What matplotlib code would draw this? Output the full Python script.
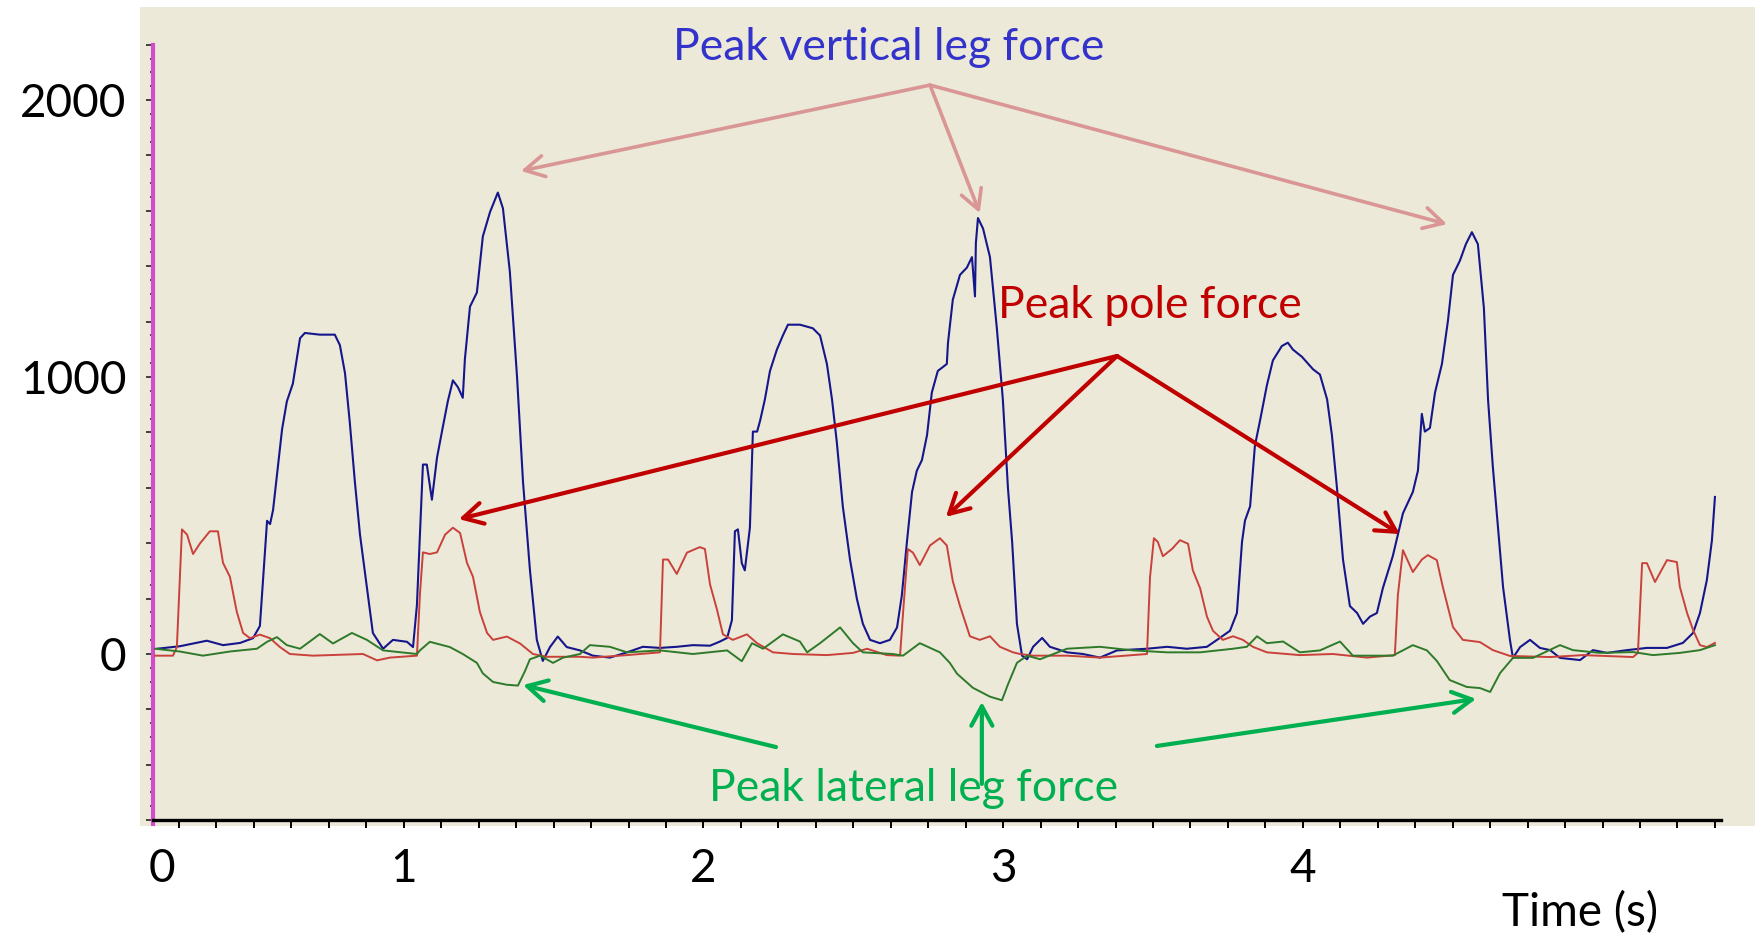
import numpy as np
import matplotlib.pyplot as plt
from matplotlib.patches import FancyArrowPatch
from matplotlib.ticker import FixedLocator

plt.rcParams['font.family'] = ['Lato', 'DejaVu Sans']

# traces: time (s), force
blue_t = [0.177, 0.253, 0.343, 0.397, 0.454, 0.497, 0.520, 0.544, 0.554, 0.564, 0.594, 0.610, 0.630,
          0.654, 0.670, 0.720, 0.770, 0.787, 0.804, 0.820, 0.837, 0.854, 0.877, 0.897, 0.931, 0.964,
          1.011, 1.031, 1.044, 1.064, 1.077, 1.094, 1.111, 1.131, 1.147, 1.164, 1.181, 1.197, 1.204,
          1.221, 1.244, 1.264, 1.288, 1.314, 1.331, 1.354, 1.378, 1.398, 1.421, 1.444, 1.464, 1.488,
          1.514, 1.544, 1.588, 1.631, 1.688, 1.745, 1.798, 1.855, 1.911, 1.965, 2.022, 2.055, 2.079,
          2.095, 2.105, 2.115, 2.128, 2.138, 2.155, 2.165, 2.179, 2.189, 2.205, 2.222, 2.245, 2.265,
          2.282, 2.322, 2.365, 2.389, 2.412, 2.429, 2.445, 2.465, 2.489, 2.512, 2.532, 2.556, 2.589,
          2.622, 2.646, 2.662, 2.679, 2.696, 2.712, 2.729, 2.746, 2.762, 2.782, 2.812, 2.816, 2.832,
          2.856, 2.879, 2.896, 2.906, 2.909, 2.916, 2.933, 2.956, 2.979, 2.999, 3.016, 3.030, 3.046,
          3.063, 3.080, 3.100, 3.130, 3.156, 3.213, 3.266, 3.323, 3.380, 3.480, 3.547, 3.613, 3.680,
          3.723, 3.757, 3.780, 3.797, 3.807, 3.824, 3.840, 3.857, 3.880, 3.900, 3.930, 3.950, 3.967,
          3.997, 4.034, 4.057, 4.081, 4.097, 4.114, 4.134, 4.157, 4.181, 4.201, 4.224, 4.247, 4.267,
          4.300, 4.334, 4.367, 4.384, 4.397, 4.407, 4.424, 4.441, 4.464, 4.484, 4.501, 4.524, 4.544,
          4.564, 4.584, 4.604, 4.618, 4.634, 4.651, 4.668, 4.691, 4.701, 4.725, 4.758, 4.791, 4.825,
          4.858, 4.925, 4.968, 5.015, 5.082, 5.148, 5.215, 5.268, 5.302, 5.325, 5.348, 5.365, 5.375]
blue_v = [19, 28, 48, 32, 40, 57, 101, 481, 469, 520, 811, 912, 976,
          1140, 1159, 1153, 1153, 1115, 1014, 836, 621, 431, 241, 76, 19, 51,
          44, 25, 177, 684, 684, 557, 709, 823, 912, 988, 963, 925, 1064,
          1254, 1305, 1508, 1596, 1666, 1609, 1381, 1001, 621, 304, 51, -25, 25,
          63, 25, 13, -6, -13, 6, 26, 22, 26, 32, 30, 45, 58,
          122, 443, 450, 328, 302, 456, 803, 803, 842, 919, 1022, 1099, 1150,
          1189, 1189, 1176, 1150, 1047, 919, 765, 533, 341, 199, 109, 51, 39,
          51, 96, 212, 405, 585, 662, 700, 790, 944, 1022, 1047, 1124, 1279,
          1369, 1395, 1433, 1291, 1484, 1574, 1536, 1433, 1176, 919, 600, 405, 109,
          -6, -19, 26, 58, 26, 6, 0, -13, 13, 19, 26, 19, 26,
          58, 84, 148, 405, 482, 533, 752, 842, 970, 1060, 1112, 1124, 1099,
          1073, 1028, 1009, 919, 790, 598, 341, 173, 148, 109, 135, 148, 238,
          353, 508, 585, 662, 867, 803, 816, 944, 1047, 1202, 1369, 1420, 1480,
          1523, 1480, 1250, 917, 675, 458, 242, 51, -14, 25, 51, 22, 14,
          -14, -22, 14, 4, 14, 22, 22, 40, 76, 148, 267, 411, 567]

red_t = [0.170, 0.230, 0.243, 0.260, 0.277, 0.297, 0.320, 0.353, 0.380, 0.397, 0.420, 0.443, 0.464,
         0.487, 0.520, 0.554, 0.587, 0.620, 0.697, 0.864, 0.911, 0.954, 1.044, 1.054, 1.064, 1.087,
         1.111, 1.138, 1.164, 1.188, 1.211, 1.231, 1.254, 1.278, 1.298, 1.344, 1.388, 1.431, 1.478,
         1.588, 1.631, 1.745, 1.855, 1.865, 1.882, 1.911, 1.945, 1.988, 2.005, 2.022, 2.045, 2.065,
         2.098, 2.145, 2.179, 2.232, 2.299, 2.412, 2.499, 2.546, 2.612, 2.656, 2.666, 2.682, 2.699,
         2.722, 2.756, 2.789, 2.812, 2.832, 2.856, 2.889, 2.922, 2.956, 2.989, 3.033, 3.056, 3.100,
         3.213, 3.323, 3.480, 3.490, 3.503, 3.516, 3.533, 3.563, 3.590, 3.617, 3.633, 3.657, 3.680,
         3.700, 3.733, 3.767, 3.800, 3.833, 3.880, 3.990, 4.100, 4.214, 4.307, 4.317, 4.334, 4.367,
         4.397, 4.417, 4.447, 4.467, 4.501, 4.534, 4.591, 4.634, 4.691, 4.825, 4.935, 5.102, 5.118,
         5.132, 5.148, 5.175, 5.215, 5.248, 5.258, 5.282, 5.302, 5.325, 5.348, 5.375]
red_v = [-6, -6, 25, 450, 431, 361, 399, 443, 443, 329, 279, 152, 76,
         57, 70, 57, 25, 0, -6, 0, -23, -13, -6, 215, 367, 361,
         367, 431, 456, 437, 329, 279, 152, 76, 51, 63, 38, 0, -10,
         -10, -13, -4, 6, 341, 341, 289, 366, 386, 379, 251, 161, 71,
         51, 71, 39, 6, 0, -4, 4, 19, -4, -6, 148, 379, 366,
         321, 392, 418, 392, 263, 173, 64, 51, 64, 26, 6, 0, -6,
         -6, -13, 0, 276, 418, 405, 353, 379, 411, 398, 302, 238, 135,
         84, 51, 64, 51, 26, 6, -4, 0, -13, -4, 212, 375, 296,
         341, 357, 339, 242, 97, 51, 43, 14, -7, -11, -4, -11, 4,
         328, 328, 260, 339, 332, 242, 148, 87, 32, 25, 40]

green_t = [0.170, 0.253, 0.330, 0.420, 0.510, 0.544, 0.577, 0.610, 0.654, 0.720, 0.764, 0.827, 0.877,
           0.931, 1.044, 1.054, 1.087, 1.154, 1.197, 1.244, 1.264, 1.298, 1.344, 1.381, 1.404, 1.421,
           1.455, 1.498, 1.532, 1.588, 1.621, 1.688, 1.745, 1.855, 1.965, 2.079, 2.128, 2.162, 2.199,
           2.265, 2.322, 2.346, 2.389, 2.456, 2.499, 2.532, 2.632, 2.666, 2.722, 2.789, 2.822, 2.846,
           2.899, 2.956, 2.996, 3.016, 3.046, 3.080, 3.123, 3.213, 3.323, 3.433, 3.547, 3.657, 3.767,
           3.813, 3.847, 3.880, 3.934, 3.990, 4.057, 4.124, 4.167, 4.234, 4.300, 4.367, 4.414, 4.447,
           4.490, 4.547, 4.591, 4.625, 4.658, 4.701, 4.768, 4.858, 4.901, 4.991, 5.102, 5.168, 5.258,
           5.325, 5.375]
green_v = [19, 9, -6, 9, 19, 44, 61, 32, 19, 72, 38, 76, 51,
           13, 0, 13, 44, 25, 0, -32, -70, -101, -111, -114, -63, -19,
           -6, -32, -13, 0, 32, 26, 6, 13, 0, 13, -26, 39, 19,
           71, 45, 6, 39, 96, 39, 6, 0, -6, 39, 6, -32, -71,
           -122, -154, -167, -110, -32, -6, -19, 19, 26, 13, 6, 6, 19,
           26, 64, 39, 45, 6, 13, 45, -6, -6, -6, 32, 13, -25,
           -94, -119, -123, -137, -69, -14, -14, 32, 14, 4, 7, -4, 4,
           14, 32]

ytick_values = [0, 1000, 2000]
xtick_pos = [0.193, 1, 2, 3, 4]
xtick_labels = ['0', '1', '2', '3', '4']

fig = plt.figure(figsize=(17.56, 9.39), dpi=100)
ax = fig.add_axes([140 / 1756, 113 / 939, 1616 / 1756, 819 / 939])
ax.set_facecolor('#ECE9D8')
ax.set_xlim(0.120, 5.512)
ax.set_ylim(-621, 2336)

ax.plot(blue_t, blue_v, color='#15158c', lw=1.5, zorder=3)
ax.plot(red_t, red_v, color='#c9413b', lw=1.4, zorder=4)
ax.plot(green_t, green_v, color='#2e7a2a', lw=1.4, zorder=4)

# axes look like the logger software
for s in ['top', 'right']:
    ax.spines[s].set_visible(False)
ax.spines['left'].set_position(('data', 0.163))
ax.spines['left'].set_bounds(-615, 2200)
ax.spines['left'].set_color('#d24ccc')
ax.spines['left'].set_linewidth(3)
ax.spines['bottom'].set_position(('data', -600))
ax.spines['bottom'].set_bounds(0.163, 5.395)
ax.spines['bottom'].set_color('black')
ax.spines['bottom'].set_linewidth(2.4)

major_y = np.arange(-600, 2201, 200)
ax.set_yticks(major_y)
ax.set_yticklabels([str(v) if v in ytick_values else '' for v in major_y])
ax.yaxis.set_minor_locator(FixedLocator(np.arange(-600, 2201, 50)))
ax.tick_params(axis='y', which='major', direction='out', length=5, width=1.2, color='#222222',
               labelsize=33, pad=14)
ax.tick_params(axis='y', which='minor', direction='out', length=2.5, width=1.2, color='#222222')

ax.xaxis.remove_overlapping_locs = False
ax.set_xticks(xtick_pos)
ax.set_xticklabels(xtick_labels)
ax.xaxis.set_minor_locator(FixedLocator(np.arange(0.25, 5.38, 0.125)))
ax.tick_params(axis='x', which='major', length=0, labelsize=33, pad=20)
ax.tick_params(axis='x', which='minor', direction='out', length=6, width=1.4, color='black')


def arrow(p0, p1, color, lw):
    ax.add_patch(FancyArrowPatch(p0, p1, arrowstyle='->,head_length=0.7,head_width=0.38',
                                 mutation_scale=20, color=color, lw=lw, shrinkA=0, shrinkB=0,
                                 zorder=6, clip_on=False))


# annotations
ax.text(2.619, 2191, 'Peak vertical leg force', color='#3333cc', fontsize=32, ha='center', va='center')
for tip in [(1.391, 1744), (2.922, 1592), (4.481, 1552)]:
    arrow((2.756, 2054), tip, '#d99694', 2.6)

ax.text(3.490, 1260, 'Peak pole force', color='#c00000', fontsize=32, ha='center', va='center')
for tip in [(1.184, 487), (2.809, 495), (4.324, 433)]:
    arrow((3.380, 1076), tip, '#c00000', 3)

ax.text(2.702, -484, 'Peak lateral leg force', color='#00b050', fontsize=32, ha='center', va='center')
arrow((2.242, -336), (1.398, -112), '#00b050', 3)
arrow((2.929, -469), (2.929, -173), '#00b050', 3)
arrow((3.513, -332), (4.578, -162), '#00b050', 3)

fig.text(1580 / 1756, 1 - 913 / 939, 'Time (s)', fontsize=33, ha='center', va='center')

fig.savefig('out.png', dpi=100)
